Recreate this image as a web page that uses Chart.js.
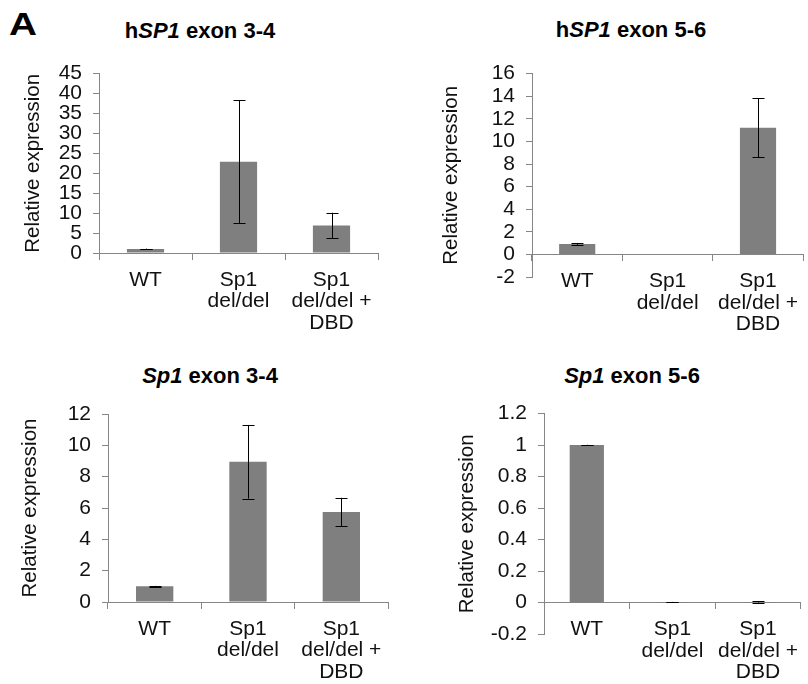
<!DOCTYPE html>
<html>
<head>
<meta charset="utf-8">
<script src="https://cdn.jsdelivr.net/npm/chart.js@4"></script>
<style>
  body { margin: 0; background: #fff; }
  #page { position: relative; width: 808px; height: 684px; overflow: hidden; font-family: "Liberation Sans", Arial, sans-serif; }
  canvas { position: absolute; }
  .ttl { position: absolute; transform: translate(-50%, -50%); font-weight: bold; font-size: 22px; white-space: nowrap; color: #000; }
  #panelA { position: absolute; left: 9px; top: 9px; line-height: 1; font-weight: bold; font-size: 31px; color: #000; transform: scale(1.25, 1); transform-origin: left top; }
</style>
</head>
<body>
<div id="page">
  <div id="panelA">A</div>
  <div class="ttl" style="left:200px; top:31px">h<i>SP1</i> exon 3-4</div>
  <div class="ttl" style="left:631px; top:30px">h<i>SP1</i> exon 5-6</div>
  <div class="ttl" style="left:210px; top:376px"><i>Sp1</i> exon 3-4</div>
  <div class="ttl" style="left:632px; top:376px"><i>Sp1</i> exon 5-6</div>
  <canvas id="c1" width="404" height="290" style="left:0; top:50px"></canvas>
  <canvas id="c2" width="404" height="290" style="left:404px; top:50px"></canvas>
  <canvas id="c3" width="404" height="294" style="left:0; top:390px"></canvas>
  <canvas id="c4" width="404" height="294" style="left:404px; top:390px"></canvas>
</div>
<script>
// categories shared by every panel
const categories = ['WT', ['Sp1', 'del/del'], ['Sp1', 'del/del +', 'DBD']]

// hSP1 exon 3-4
const hExon34 = [1.0, 22.9, 6.9]
const hExon34Err = [0.1, 15.4, 3.2]
// hSP1 exon 5-6
const hExon56 = [0.93, 0, 11.2]
const hExon56Err = [0.08, 0, 2.6]
// Sp1 exon 3-4
const mExon34 = [1.0, 8.95, 5.75]
const mExon34Err = [0.03, 2.35, 0.9]
// Sp1 exon 5-6
const mExon56 = [1.0, 0.003, 0.004]
const mExon56Err = [0.002, 0.001, 0.004]

// y axis ticks: [min, max, step]
const yTicks1 = [0, 45, 5]
const yTicks2 = [-2, 16, 2]
const yTicks3 = [0, 12, 2]
const yTicks4 = [-0.2, 1.2, 0.2]

const FONT = '"Liberation Sans", Arial, sans-serif'
const AXIS = '#868686'

// excel-style labels: 1 not 1.0, 0 not -0.0
const fmt = (v) => {
  const r = Math.round(v * 10) / 10
  return String(r === 0 ? 0 : r)
}

const errorBars = {
  id: 'errorBars',
  afterDatasetsDraw(chart, args, opts) {
    const ctx = chart.ctx
    const y = chart.scales.y
    const meta = chart.getDatasetMeta(0)
    const vals = chart.data.datasets[0].data
    ctx.save()
    ctx.strokeStyle = '#000'
    ctx.lineWidth = 1
    opts.err.forEach((e, i) => {
      if (!e) return
      const x = Math.round(meta.data[i].x) + 0.5
      const top = y.getPixelForValue(vals[i] + e)
      const bot = y.getPixelForValue(vals[i] - e)
      ctx.beginPath()
      ctx.moveTo(x, top); ctx.lineTo(x, bot)
      ctx.moveTo(x - 6, Math.round(top) + 0.5); ctx.lineTo(x + 6, Math.round(top) + 0.5)
      ctx.moveTo(x - 6, Math.round(bot) + 0.5); ctx.lineTo(x + 6, Math.round(bot) + 0.5)
      ctx.stroke()
    })
    ctx.restore()
  }
}

const makeChart = (id, values, errs, ticks, yWidth, titlePad, pad) => {
  const ctx = document.getElementById(id).getContext('2d')
  return new Chart(ctx, {
    type: 'bar',
    data: {
      labels: categories,
      datasets: [{
        data: values,
        backgroundColor: '#7f7f7f',
        barPercentage: 0.4,
        categoryPercentage: 1.0
      }]
    },
    plugins: [errorBars],
    options: {
      responsive: false,
      animation: false,
      layout: { padding: { top: pad[0], right: pad[1], bottom: pad[2], left: 0 } },
      plugins: {
        legend: { display: false },
        tooltip: { enabled: false },
        errorBars: { err: errs }
      },
      scales: {
        x: {
          position: { y: 0 },
          offset: true,
          grid: { offset: true, drawOnChartArea: false, drawTicks: true, tickLength: 6, color: AXIS },
          border: { display: true, color: AXIS, width: 1 },
          ticks: { color: '#111', padding: 10, maxRotation: 0, autoSkip: false, font: { family: FONT, size: 21, lineHeight: 1.03 } }
        },
        y: {
          min: ticks[0],
          max: ticks[1],
          grid: { drawOnChartArea: false, drawTicks: true, tickLength: 6, color: AXIS },
          border: { display: true, color: AXIS, width: 1 },
          ticks: { stepSize: ticks[2], autoSkip: false, color: '#111', padding: 11, callback: fmt, font: { family: FONT, size: 21 } },
          title: { display: true, text: 'Relative expression', color: '#111', padding: { top: titlePad, bottom: 0 }, font: { family: FONT, size: 20.5, lineHeight: 1.2 } },
          afterFit: (scale) => { scale.width = yWidth }
        }
      }
    }
  })
}

makeChart('c1', hExon34, hExon34Err, yTicks1, 99, 21, [17, 26, 87])
makeChart('c2', hExon56, hExon56Err, yTicks2, 128, 35, [15, 0, 63])
makeChart('c3', mExon34, mExon34Err, yTicks3, 108, 18, [24, 16, 82])
makeChart('c4', mExon56, mExon56Err, yTicks4, 140, 51, [23, 0, 50])
</script>
</body>
</html>
